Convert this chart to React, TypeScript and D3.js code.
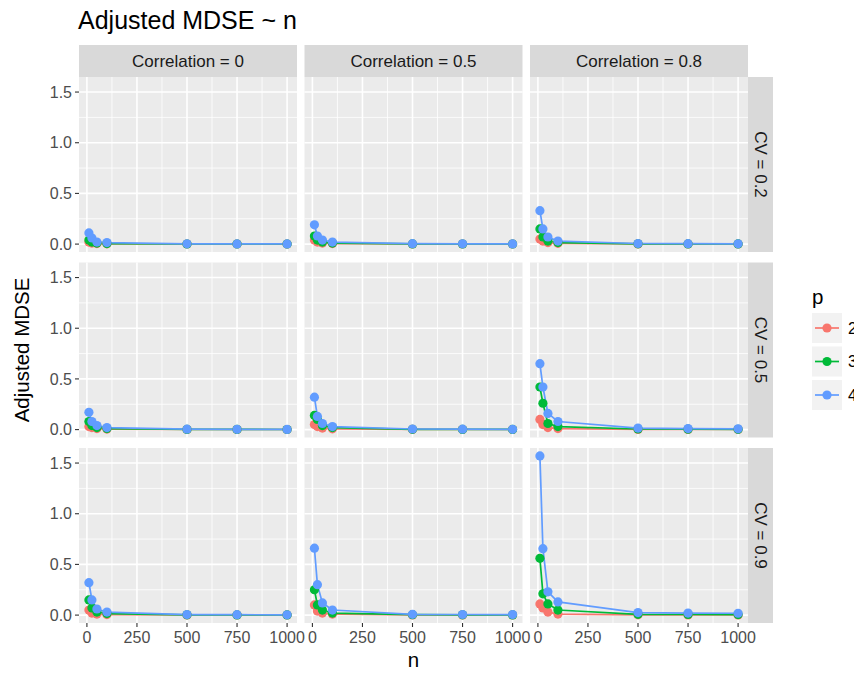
import React, { useEffect, useRef } from 'react';
import * as d3 from 'd3';

// Facet levels and x values
const nValues = [10, 25, 50, 100, 500, 750, 1000];
const correlations = ['0', '0.5', '0.8'];
const cvLevels = ['0.2', '0.5', '0.9'];
const pLevels = ['2', '3', '4'];
const xTicks = [0, 250, 500, 750, 1000];
const yTicks = [0, 0.5, 1.0, 1.5];

// CV = 0.2
const cv02cor0p2 = [0.02, 0.01, 0.005, 0.003, 0.001, 0.001, 0.0005];
const cv02cor0p3 = [0.04, 0.02, 0.01, 0.005, 0.001, 0.001, 0.001];
const cv02cor0p4 = [0.11, 0.06, 0.02, 0.015, 0.003, 0.002, 0.002];
const cv02cor05p2 = [0.04, 0.02, 0.01, 0.005, 0.001, 0.001, 0.001];
const cv02cor05p3 = [0.08, 0.04, 0.02, 0.01, 0.002, 0.001, 0.001];
const cv02cor05p4 = [0.19, 0.08, 0.04, 0.02, 0.004, 0.003, 0.002];
const cv02cor08p2 = [0.05, 0.03, 0.015, 0.008, 0.002, 0.001, 0.001];
const cv02cor08p3 = [0.15, 0.07, 0.03, 0.015, 0.003, 0.002, 0.002];
const cv02cor08p4 = [0.33, 0.15, 0.07, 0.03, 0.006, 0.004, 0.003];

// CV = 0.5
const cv05cor0p2 = [0.03, 0.02, 0.01, 0.005, 0.001, 0.001, 0.001];
const cv05cor0p3 = [0.08, 0.04, 0.02, 0.01, 0.002, 0.002, 0.001];
const cv05cor0p4 = [0.17, 0.08, 0.04, 0.02, 0.004, 0.003, 0.002];
const cv05cor05p2 = [0.05, 0.03, 0.015, 0.008, 0.002, 0.001, 0.001];
const cv05cor05p3 = [0.14, 0.1, 0.04, 0.02, 0.003, 0.002, 0.002];
const cv05cor05p4 = [0.32, 0.13, 0.06, 0.03, 0.006, 0.004, 0.003];
const cv05cor08p2 = [0.1, 0.05, 0.02, 0.01, 0.002, 0.002, 0.001];
const cv05cor08p3 = [0.42, 0.26, 0.06, 0.03, 0.006, 0.004, 0.003];
const cv05cor08p4 = [0.65, 0.42, 0.16, 0.08, 0.015, 0.01, 0.008];

// CV = 0.9
const cv09cor0p2 = [0.05, 0.02, 0.01, 0.005, 0.001, 0.001, 0.001];
const cv09cor0p3 = [0.15, 0.07, 0.03, 0.015, 0.003, 0.002, 0.002];
const cv09cor0p4 = [0.32, 0.15, 0.06, 0.03, 0.005, 0.004, 0.003];
const cv09cor05p2 = [0.1, 0.04, 0.02, 0.01, 0.002, 0.001, 0.001];
const cv09cor05p3 = [0.25, 0.1, 0.05, 0.02, 0.004, 0.003, 0.002];
const cv09cor05p4 = [0.66, 0.3, 0.12, 0.05, 0.008, 0.006, 0.005];
const cv09cor08p2 = [0.11, 0.07, 0.03, 0.01, 0.003, 0.002, 0.002];
const cv09cor08p3 = [0.56, 0.21, 0.11, 0.05, 0.008, 0.006, 0.005];
const cv09cor08p4 = [1.57, 0.655, 0.23, 0.13, 0.025, 0.02, 0.018];

// rows = CV, columns = correlation, each cell = [p2, p3, p4]
const panelSeries = [
  [[cv02cor0p2, cv02cor0p3, cv02cor0p4], [cv02cor05p2, cv02cor05p3, cv02cor05p4], [cv02cor08p2, cv02cor08p3, cv02cor08p4]],
  [[cv05cor0p2, cv05cor0p3, cv05cor0p4], [cv05cor05p2, cv05cor05p3, cv05cor05p4], [cv05cor08p2, cv05cor08p3, cv05cor08p4]],
  [[cv09cor0p2, cv09cor0p3, cv09cor0p4], [cv09cor05p2, cv09cor05p3, cv09cor05p4], [cv09cor08p2, cv09cor08p3, cv09cor08p4]],
];

const colors = ['#F8766D', '#00BA38', '#619CFF'];
const FONT = '"Liberation Sans", Arial, Helvetica, sans-serif';

const App = () => {
  const svgRef = useRef<SVGSVGElement>(null);

  useEffect(() => {
    const W = 854;
    const H = 675;
    const panelLeft = 79;
    const panelTop = 77;
    const panelW = 218;
    const panelH = 175;
    const gapX = 7.5;
    const gapY = 10.5;
    const stripH = 32;
    const stripW = 25;

    const svg = d3.select(svgRef.current);
    svg.selectAll('*').remove();
    svg.attr('width', W).attr('height', H);

    svg.append('rect').attr('width', W).attr('height', H).attr('fill', '#fff');

    // ggplot-style 5% expansion
    const xExt = d3.extent(nValues) as [number, number];
    const xPad = (xExt[1] - xExt[0]) * 0.05;
    const allVals = panelSeries.flat(3) as number[];
    const yExt = d3.extent(allVals) as [number, number];
    const yPad = (yExt[1] - yExt[0]) * 0.05;

    const xMinor = [125, 375, 625, 875];
    const yMinor = [0.25, 0.75, 1.25];

    // Title
    svg.append('text')
      .attr('x', 78).attr('y', 29)
      .attr('font-family', FONT).attr('font-size', 25)
      .attr('fill', '#000')
      .text('Adjusted MDSE ~ n');

    cvLevels.forEach((cv, ri) => {
      const y0 = panelTop + ri * (panelH + gapY);
      const yScale = d3.scaleLinear()
        .domain([yExt[0] - yPad, yExt[1] + yPad])
        .range([y0 + panelH, y0]);

      correlations.forEach((cor, ci) => {
        const x0 = panelLeft + ci * (panelW + gapX);
        const xScale = d3.scaleLinear()
          .domain([xExt[0] - xPad, xExt[1] + xPad])
          .range([x0, x0 + panelW]);

        const g = svg.append('g');
        g.append('rect')
          .attr('x', x0).attr('y', y0)
          .attr('width', panelW).attr('height', panelH)
          .attr('fill', '#EBEBEB');

        // minor grid
        g.selectAll('.xminor').data(xMinor).enter().append('line')
          .attr('x1', d => xScale(d)).attr('x2', d => xScale(d))
          .attr('y1', y0).attr('y2', y0 + panelH)
          .attr('stroke', '#fff').attr('stroke-width', 0.8);
        g.selectAll('.yminor').data(yMinor).enter().append('line')
          .attr('x1', x0).attr('x2', x0 + panelW)
          .attr('y1', d => yScale(d)).attr('y2', d => yScale(d))
          .attr('stroke', '#fff').attr('stroke-width', 0.8);
        // major grid
        g.selectAll('.xmajor').data(xTicks).enter().append('line')
          .attr('x1', d => xScale(d)).attr('x2', d => xScale(d))
          .attr('y1', y0).attr('y2', y0 + panelH)
          .attr('stroke', '#fff').attr('stroke-width', 1.6);
        g.selectAll('.ymajor').data(yTicks).enter().append('line')
          .attr('x1', x0).attr('x2', x0 + panelW)
          .attr('y1', d => yScale(d)).attr('y2', d => yScale(d))
          .attr('stroke', '#fff').attr('stroke-width', 1.6);

        const series = panelSeries[ri][ci];
        const line = d3.line<number>()
          .x((_, i) => xScale(nValues[i]))
          .y(d => yScale(d));

        series.forEach((vals, si) => {
          g.append('path')
            .attr('d', line(vals))
            .attr('fill', 'none')
            .attr('stroke', colors[si])
            .attr('stroke-width', 1.7);
        });
        series.forEach((vals, si) => {
          g.selectAll(`.pt${si}`).data(vals).enter().append('circle')
            .attr('cx', (_, i) => xScale(nValues[i]))
            .attr('cy', d => yScale(d))
            .attr('r', 4.6)
            .attr('fill', colors[si]);
        });

        // top strips
        if (ri === 0) {
          svg.append('rect')
            .attr('x', x0).attr('y', panelTop - stripH)
            .attr('width', panelW).attr('height', stripH)
            .attr('fill', '#D9D9D9');
          svg.append('text')
            .attr('x', x0 + panelW / 2).attr('y', panelTop - stripH / 2)
            .attr('dy', '0.35em')
            .attr('text-anchor', 'middle')
            .attr('font-family', FONT).attr('font-size', 17)
            .attr('fill', '#1A1A1A')
            .text(`Correlation = ${cor}`);
        }

        // x axis on bottom row
        if (ri === cvLevels.length - 1) {
          const yb = y0 + panelH;
          g.selectAll('.xtick').data(xTicks).enter().append('line')
            .attr('x1', d => xScale(d)).attr('x2', d => xScale(d))
            .attr('y1', yb).attr('y2', yb + 4)
            .attr('stroke', '#333').attr('stroke-width', 1.1);
          g.selectAll('.xlab').data(xTicks).enter().append('text')
            .attr('x', d => xScale(d)).attr('y', yb + 20)
            .attr('text-anchor', 'middle')
            .attr('font-family', FONT).attr('font-size', 16)
            .attr('fill', '#4D4D4D')
            .text(d => d);
        }

        // y axis on left column
        if (ci === 0) {
          g.selectAll('.ytick').data(yTicks).enter().append('line')
            .attr('x1', x0 - 4).attr('x2', x0)
            .attr('y1', d => yScale(d)).attr('y2', d => yScale(d))
            .attr('stroke', '#333').attr('stroke-width', 1.1);
          g.selectAll('.ylab').data(yTicks).enter().append('text')
            .attr('x', x0 - 7).attr('y', d => yScale(d))
            .attr('dy', '0.35em')
            .attr('text-anchor', 'end')
            .attr('font-family', FONT).attr('font-size', 16)
            .attr('fill', '#4D4D4D')
            .text(d => d.toFixed(1));
        }
      });

      // right strip
      const sx = panelLeft + 3 * panelW + 2 * gapX;
      svg.append('rect')
        .attr('x', sx).attr('y', y0)
        .attr('width', stripW).attr('height', panelH)
        .attr('fill', '#D9D9D9');
      svg.append('text')
        .attr('transform', `translate(${sx + stripW / 2},${y0 + panelH / 2}) rotate(90)`)
        .attr('dy', '0.35em')
        .attr('text-anchor', 'middle')
        .attr('font-family', FONT).attr('font-size', 17)
        .attr('fill', '#1A1A1A')
        .text(`CV = ${cv}`);
    });

    // axis titles
    const gridW = 3 * panelW + 2 * gapX;
    const gridH = 3 * panelH + 2 * gapY;
    svg.append('text')
      .attr('x', panelLeft + gridW / 2).attr('y', 667)
      .attr('text-anchor', 'middle')
      .attr('font-family', FONT).attr('font-size', 20.5)
      .attr('fill', '#000')
      .text('n');
    svg.append('text')
      .attr('transform', `translate(29,${panelTop + gridH / 2}) rotate(-90)`)
      .attr('text-anchor', 'middle')
      .attr('font-family', FONT).attr('font-size', 20.5)
      .attr('fill', '#000')
      .text('Adjusted MDSE');

    // legend
    const lg = svg.append('g').attr('transform', 'translate(812,0)');
    lg.append('text')
      .attr('x', 0).attr('y', 304)
      .attr('font-family', FONT).attr('font-size', 20.5)
      .attr('fill', '#000')
      .text('p');
    pLevels.forEach((p, i) => {
      const ky = 313 + i * 33.5;
      lg.append('rect')
        .attr('x', 0).attr('y', ky)
        .attr('width', 30).attr('height', 30)
        .attr('fill', '#F2F2F2');
      lg.append('line')
        .attr('x1', 3).attr('x2', 27)
        .attr('y1', ky + 15).attr('y2', ky + 15)
        .attr('stroke', colors[i]).attr('stroke-width', 1.7);
      lg.append('circle')
        .attr('cx', 15).attr('cy', ky + 15).attr('r', 4.6)
        .attr('fill', colors[i]);
      lg.append('text')
        .attr('x', 36).attr('y', ky + 15)
        .attr('dy', '0.35em')
        .attr('font-family', FONT).attr('font-size', 16)
        .attr('fill', '#000')
        .text(p);
    });
  }, []);

  return <svg ref={svgRef} style={{ position: 'absolute', left: 0, top: 0, display: 'block' }}></svg>;
};

export default App;
